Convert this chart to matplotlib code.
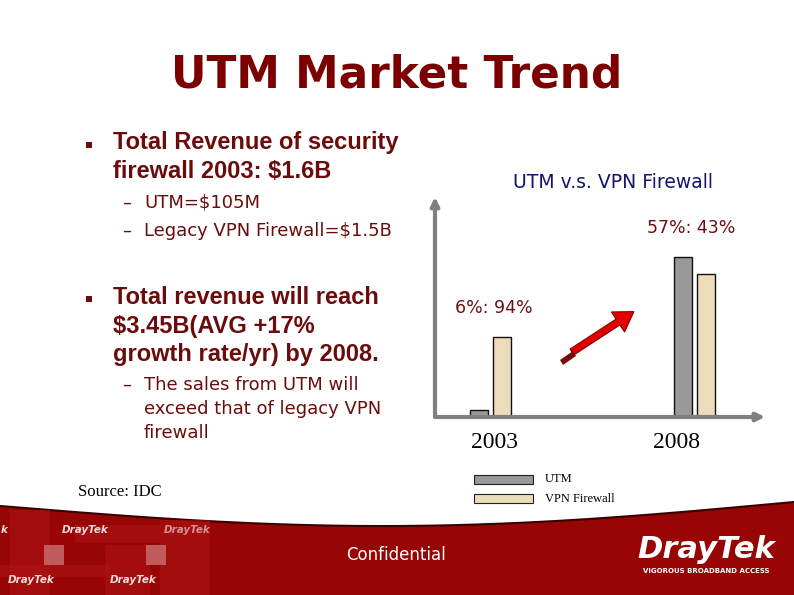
import numpy as np
import matplotlib as mpl
mpl.use('Agg')
import matplotlib.pyplot as plt
from matplotlib.patches import Rectangle, FancyArrow, Polygon

# data
years = ['2003', '2008']
utm = [0.13, 3.0]       # bar heights, relative units
vpn = [1.5, 2.68]
shares = ['6%: 94%', '57%: 43%']
series = ['UTM', 'VPN Firewall']

red_txt = '#6b0c0c'
title_red = '#7d0000'

fig = plt.figure(figsize=(7.94, 5.95), dpi=100, facecolor='white')

# full-slide overlay in pixel coordinates
bg = fig.add_axes([0, 0, 1, 1])
bg.set_xlim(0, 794)
bg.set_ylim(595, 0)
bg.axis('off')

# footer band with curved top edge
xs = np.linspace(0, 794, 200)
top = 506 + 22 * np.sin(np.pi * xs / 794) - 4 * xs / 794
band = Polygon(np.column_stack([np.r_[xs, 794, 0], np.r_[top, 595, 595]]),
               closed=True, fc='#970505', ec='none', zorder=1)
bg.add_patch(band)
bg.plot(xs, top, color='#3a0000', lw=1.5, zorder=2)
# lighter pattern on the left of the footer
for (x0, y0, w, h) in [(10, 510, 40, 85), (75, 525, 85, 18), (105, 545, 45, 50),
                       (160, 520, 50, 75), (0, 565, 110, 12)]:
    bg.add_patch(Rectangle((x0, y0), w, h, fc='#ad1414', ec='none', alpha=0.6, zorder=2))
for (x0, y0) in [(44, 545), (146, 545)]:
    bg.add_patch(Rectangle((x0, y0), 20, 20, fc='#cc7070', ec='none', alpha=0.8, zorder=3))
bg.text(1, 530, 'k', color='white', alpha=0.85, fontsize=7.5, fontweight='bold',
        style='italic', va='center', ha='left', zorder=4)
for (x0, y0, a) in [(62, 530, 0.85), (164, 530, 0.55), (8, 580, 0.85), (110, 580, 0.85)]:
    bg.text(x0, y0, 'DrayTek', color='white', alpha=a, fontsize=7.5,
            fontweight='bold', style='italic', va='center', ha='left', zorder=4)
bg.text(396, 555, 'Confidential', color='white', fontsize=12, ha='center',
        va='center', family='DejaVu Sans', zorder=4)
bg.text(706, 549, 'DrayTek', color='white', fontsize=22, fontweight='bold',
        style='italic', ha='center', va='center', zorder=4)
bg.text(706, 571, 'VIGOROUS BROADBAND ACCESS', color='white', fontsize=5,
        fontweight='bold', ha='center', va='center', zorder=4)

# title
bg.text(397, 75, 'UTM Market Trend', color=title_red, fontsize=31.5,
        fontweight='bold', ha='center', va='center', family='DejaVu Sans')

# bullet text
big = dict(color=red_txt, fontsize=17, fontweight='bold', family='Liberation Sans',
           ha='left', va='center')
small = dict(color=red_txt, fontsize=13, family='DejaVu Sans', ha='left', va='center')
for y in [145, 299]:
    bg.add_patch(Rectangle((86, y - 3), 6, 6, fc=red_txt, ec='none'))
for y, s in [(142, 'Total Revenue of security'), (171, 'firewall 2003: $1.6B'),
             (297, 'Total revenue will reach'), (326, '$3.45B(AVG +17%'),
             (354, 'growth rate/yr) by 2008.')]:
    bg.text(113, y, s, **big)
for y in [203, 231, 385]:
    bg.text(122, y, '–', **small)
for y, s in [(203, 'UTM=$105M'), (231, 'Legacy VPN Firewall=$1.5B'),
             (385, 'The sales from UTM will'), (409, 'exceed that of legacy VPN'),
             (433, 'firewall')]:
    bg.text(144, y, s, **small)
bg.text(78, 492, 'Source: IDC', color='black', fontsize=12, family='Liberation Serif',
        ha='left', va='center')

# chart title
bg.text(613, 183, 'UTM v.s. VPN Firewall', color='#14146e', fontsize=13.5,
        family='DejaVu Sans', ha='center', va='center')

# red trend arrow
bg.add_patch(FancyArrow(572, 352, 46, -30, width=7, head_width=24, head_length=19,
                        length_includes_head=False, fc='#e00000', ec='#8a0000', lw=0.8, zorder=5))
bg.add_patch(Polygon([[560, 360], [573, 351], [576, 356], [563, 365]], closed=True,
                     fc='#7a0a0a', ec='none', zorder=5))

# bar chart axes, origin at pixel (435, 417)
ax = fig.add_axes([435 / 794, (595 - 417) / 595, 330 / 794, 220 / 595])
ax.patch.set_alpha(0)
ppu = 204.0                      # pixels per category step
ax.set_xlim(-55.5 / ppu, (330 - 55.5) / ppu)
ax.set_ylim(0, 220 / 53.3)
for sp in ax.spines.values():
    sp.set_visible(False)
ax.set_xticks([])
ax.set_yticks([])
ax.annotate('', xy=(0, 1.0), xytext=(0, 0), xycoords='axes fraction',
            arrowprops=dict(arrowstyle='-|>', color='#808080', lw=3, mutation_scale=12,
                            shrinkA=0, shrinkB=0))
ax.annotate('', xy=(1.0, 0), xytext=(0, 0), xycoords='axes fraction',
            arrowprops=dict(arrowstyle='-|>', color='#808080', lw=3, mutation_scale=12,
                            shrinkA=0, shrinkB=0))

x = np.arange(len(years))
w = 18 / ppu
off = 11.5 / ppu
ax.bar(x - off, utm, width=w, color='#999999', edgecolor='#111111', lw=1, label=series[0])
ax.bar(x + off, vpn, width=w, color='#ecdcbc', edgecolor='#111111', lw=1, label=series[1])

for xi, s, u, v in zip(x, shares, utm, vpn):
    ax.text(xi + 0.017 - 0.034 * xi, max(u, v) + 0.55, s, color='#6b1010', fontsize=12.5,
            family='DejaVu Sans', ha='center', va='center')
for xi, yr in zip(x, years):
    ax.text(xi * 0.89 + 0.022, -0.47, yr, fontsize=17, family='Liberation Serif',
            ha='center', va='center', clip_on=False)

# legend drawn by hand to match the slide
for (y0, c, lab) in [(475, '#999999', series[0]), (494, '#ecdcbc', series[1])]:
    bg.add_patch(Rectangle((474, y0), 59, 9, fc=c, ec='#222222', lw=0.8))
    bg.text(545, y0 + 4.5, lab, fontsize=9, family='Liberation Serif', ha='left', va='center')

fig.savefig('out.png', dpi=100, facecolor='white')
